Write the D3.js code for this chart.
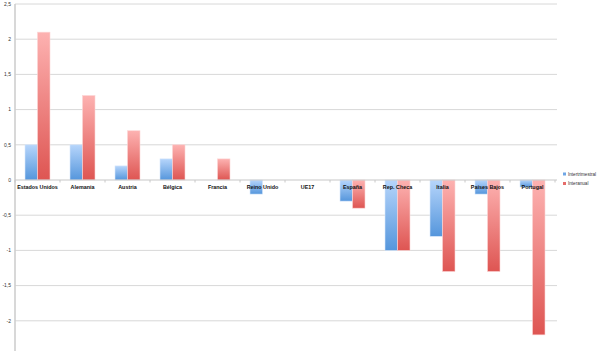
<!DOCTYPE html>
<html>
<head>
<meta charset="utf-8">
<script src="https://cdn.jsdelivr.net/npm/d3@7"></script>
<style>
  body { margin: 0; background: #fff; }
  svg { display: block; font-family: 'Liberation Sans', Arial, sans-serif; }
</style>
</head>
<body>
<svg id="chart"></svg>
<script>
const categories = ['Estados Unidos', 'Alemania', 'Austria', 'Bélgica', 'Francia', 'Reino Unido',
  'UE17', 'España', 'Rep. Checa', 'Italia', 'Países Bajos', 'Portugal'];
const series = ['Intertrimestral', 'Interanual'];
const intertrimestral = [0.5, 0.5, 0.2, 0.3, 0, -0.2, 0, -0.3, -1, -0.8, -0.2, -0.1];
const interanual = [2.1, 1.2, 0.7, 0.5, 0.3, 0, 0, -0.4, -1, -1.3, -1.3, -2.2];
const yTicks = [-2.5, -2, -1.5, -1, -0.5, 0, 0.5, 1, 1.5, 2, 2.5];

const W = 600, H = 351;
const margin = { left: 15, top: 4 };
const plotW = 540;

const svg = d3.select('#chart').attr('width', W).attr('height', H);

const defs = svg.append('defs');
const grads = [
  { id: 'g-blue', top: '#b6d5fb', bottom: '#5596dc' },
  { id: 'g-red', top: '#fdb2b1', bottom: '#de5552' }
];
grads.forEach(g => {
  const lg = defs.append('linearGradient').attr('id', g.id)
    .attr('x1', 0).attr('y1', 0).attr('x2', 0).attr('y2', 1);
  lg.append('stop').attr('offset', '0%').attr('stop-color', g.top);
  lg.append('stop').attr('offset', '100%').attr('stop-color', g.bottom);
});

const data = categories.map((c, i) => ({ cat: c, values: [intertrimestral[i], interanual[i]] }));

const x0 = d3.scaleBand().domain(categories).range([margin.left, margin.left + plotW]).paddingInner(0).paddingOuter(0);
const x1 = d3.scaleBand().domain(series).range([0, 25]);
const y = d3.scaleLinear().domain([-2.5, 2.5]).range([margin.top + 352, margin.top]);

const fmt = d => String(d).replace('.', ',');
const visibleTicks = yTicks.filter(t => y(t) < H - 2);

// gridlines
svg.append('g').selectAll('line')
  .data(visibleTicks.filter(t => t !== 0))
  .enter().append('line')
  .attr('x1', margin.left).attr('x2', margin.left + plotW + 2)
  .attr('y1', d => y(d)).attr('y2', d => y(d))
  .attr('stroke', '#d8d8d8').attr('stroke-width', 1);

// y tick labels
svg.append('g').selectAll('text')
  .data(visibleTicks)
  .enter().append('text')
  .attr('x', 11).attr('y', d => y(d))
  .attr('dy', '0.35em')
  .attr('text-anchor', 'end')
  .style('font-size', '5px')
  .attr('fill', '#333')
  .text(fmt);

// bars
const groups = svg.append('g').selectAll('g.bar-group')
  .data(data)
  .enter().append('g')
  .attr('class', 'bar-group')
  .attr('transform', d => `translate(${x0(d.cat) + (x0.bandwidth() - 25) / 2},0)`);

groups.selectAll('rect')
  .data(d => d.values.map((v, k) => ({ key: series[k], value: v })))
  .enter().append('rect')
  .filter(d => d.value !== 0)
  .attr('x', d => x1(d.key))
  .attr('width', x1.bandwidth())
  .attr('y', d => y(Math.max(0, d.value)))
  .attr('height', d => Math.abs(y(d.value) - y(0)))
  .attr('fill', d => d.key === 'Intertrimestral' ? 'url(#g-blue)' : 'url(#g-red)')
  .attr('stroke', d => d.key === 'Intertrimestral' ? '#d6e6fb' : '#fcd6d6')
  .attr('stroke-width', 0.6);

// y axis line
svg.append('line')
  .attr('x1', margin.left).attr('x2', margin.left)
  .attr('y1', y(2.5)).attr('y2', H)
  .attr('stroke', '#cfcfcf').attr('stroke-width', 1.6);

// zero axis
svg.append('line')
  .attr('x1', margin.left).attr('x2', margin.left + plotW + 2)
  .attr('y1', y(0)).attr('y2', y(0))
  .attr('stroke', '#c8c8c8').attr('stroke-width', 1.2);

svg.append('g').selectAll('line')
  .data(d3.range(categories.length + 1))
  .enter().append('line')
  .attr('x1', i => margin.left + i * x0.bandwidth())
  .attr('x2', i => margin.left + i * x0.bandwidth())
  .attr('y1', y(0)).attr('y2', y(0) + 2.5)
  .attr('stroke', '#c8c8c8').attr('stroke-width', 1);

// category labels
svg.append('g').selectAll('text')
  .data(categories)
  .enter().append('text')
  .attr('x', d => x0(d) + x0.bandwidth() / 2)
  .attr('y', y(0) + 9)
  .attr('text-anchor', 'middle')
  .style('font-size', '5.4px')
  .style('font-weight', 'bold')
  .attr('fill', '#111')
  .text(d => d);

// legend
const legend = svg.append('g').attr('transform', 'translate(563,174)');
const legendItem = legend.selectAll('g')
  .data(series)
  .enter().append('g')
  .attr('transform', (d, i) => `translate(0,${i * 9.5})`);
legendItem.append('rect')
  .attr('x', 0).attr('y', -1.5).attr('width', 3).attr('height', 3)
  .attr('fill', (d, i) => i === 0 ? '#6fa6e6' : '#e66c6a');
legendItem.append('text')
  .attr('x', 5).attr('y', 0).attr('dy', '0.35em')
  .style('font-size', '4.6px')
  .attr('fill', '#333')
  .text(d => d);
</script>
</body>
</html>
